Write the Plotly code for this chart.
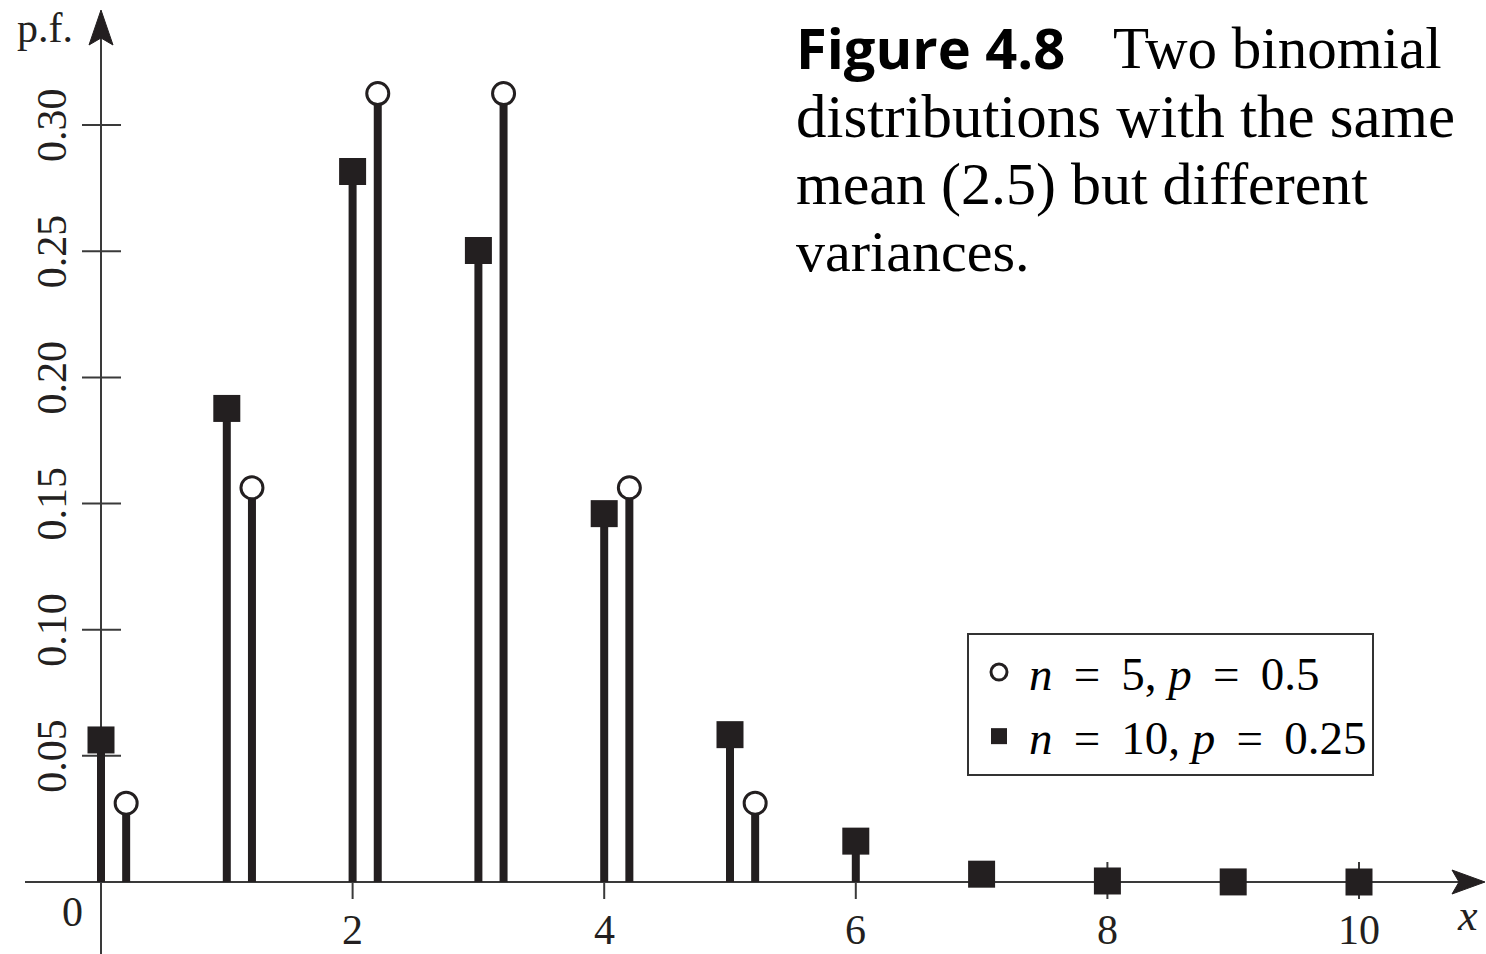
import plotly.graph_objects as go

# ---------------- data ----------------
x_n10 = [0, 1, 2, 3, 4, 5, 6, 7, 8, 9, 10]
pf_n10 = [0.0563, 0.1877, 0.2816, 0.2503, 0.1460, 0.0584, 0.0162, 0.0031, 0.0004, 0.00003, 0.000001]
x_n5 = [0, 1, 2, 3, 4, 5]
pf_n5 = [0.03125, 0.15625, 0.3125, 0.3125, 0.15625, 0.03125]
n5_offset = 0.2

y_tick_values = [0.05, 0.10, 0.15, 0.20, 0.25, 0.30]
y_tick_labels = ["0.05", "0.10", "0.15", "0.20", "0.25", "0.30"]
x_tick_values = [2, 4, 6, 8, 10]
x_tick_labels = ["2", "4", "6", "8", "10"]

SP = " \u2009"
name_n5 = f"<i>n</i>{SP}={SP}5, <i>p</i>{SP}={SP}0.5"
name_n10 = f"<i>n</i>{SP}={SP}10, <i>p</i>{SP}={SP}0.25"

title_bold = "Figure 4.8"
title_lines = ["Two binomial", "distributions with the same", "mean (2.5) but different", "variances."]

# ---------------- styling ----------------
INK = "#231f20"
AXIS = "#3a3a3a"
SERIF = "Liberation Serif"
W, H = 1486, 954
X0_PX, X_UNIT = 101, 125.8
Y0_PX, Y_UNIT = 882, 2523

xr = [-X0_PX / X_UNIT, (W - X0_PX) / X_UNIT]
yr = [-(H - Y0_PX) / Y_UNIT, Y0_PX / Y_UNIT]

x_n5_shift = [x + n5_offset for x in x_n5]


def stems(xs, ys):
    sx, sy = [], []
    for a, b in zip(xs, ys):
        sx += [a, a, None]
        sy += [0, b, None]
    return sx, sy


fig = go.Figure()

sx, sy = stems(x_n10, pf_n10)
fig.add_trace(go.Scatter(x=sx, y=sy, mode="lines", line=dict(color=INK, width=8),
                         showlegend=False, hoverinfo="skip"))
sx, sy = stems(x_n5_shift, pf_n5)
fig.add_trace(go.Scatter(x=sx, y=sy, mode="lines", line=dict(color=INK, width=8),
                         showlegend=False, hoverinfo="skip"))

fig.add_trace(go.Scatter(x=x_n5_shift, y=pf_n5, mode="markers", name=name_n5,
                         marker=dict(symbol="circle", size=22, color="white",
                                     line=dict(color=INK, width=3))))
fig.add_trace(go.Scatter(x=x_n10, y=pf_n10, mode="markers", name=name_n10,
                         marker=dict(symbol="square", size=27, color=INK,
                                     line=dict(color=INK, width=0))))

shapes = []
# axis lines
shapes.append(dict(type="line", xref="x", yref="y", x0=-76 / X_UNIT, x1=10.85, y0=0, y1=0,
                   line=dict(color=AXIS, width=2), layer="below"))
shapes.append(dict(type="line", xref="x", yref="y", x0=0, x1=0, y0=yr[0], y1=0.335,
                   line=dict(color=AXIS, width=2), layer="below"))
# arrowheads
shapes.append(dict(type="path", xref="x", yref="y", xsizemode="pixel", ysizemode="pixel",
                   xanchor=(1485 - X0_PX) / X_UNIT, yanchor=0,
                   path="M0,0 L-33,12 L-26,0 L-33,-12 Z",
                   fillcolor=INK, line=dict(color=INK, width=1)))
shapes.append(dict(type="path", xref="x", yref="y", xsizemode="pixel", ysizemode="pixel",
                   xanchor=0, yanchor=(Y0_PX - 10) / Y_UNIT,
                   path="M0,0 L-12,-35 L0,-28 L12,-35 Z",
                   fillcolor=INK, line=dict(color=INK, width=1)))
# crossing ticks
for v in y_tick_values:
    shapes.append(dict(type="line", xref="x", yref="y", xsizemode="pixel", xanchor=0,
                       x0=-19, x1=20, y0=v, y1=v, line=dict(color=AXIS, width=2), layer="below"))
for v in x_tick_values:
    shapes.append(dict(type="line", xref="x", yref="y", ysizemode="pixel", yanchor=0,
                       y0=-17, y1=20, x0=v, x1=v, line=dict(color=AXIS, width=2), layer="below"))

annotations = []
for v, t in zip(y_tick_values, y_tick_labels):
    annotations.append(dict(x=0, y=v, xref="x", yref="y", text=t, showarrow=False,
                            textangle=-90, xshift=-49, xanchor="center", yanchor="middle",
                            font=dict(family=SERIF, size=42, color=INK)))
for v, t in zip(x_tick_values, x_tick_labels):
    annotations.append(dict(x=v, y=0, xref="x", yref="y", text=t, showarrow=False,
                            yshift=-48, xanchor="center", yanchor="middle",
                            font=dict(family=SERIF, size=42, color=INK)))
annotations.append(dict(x=0, y=0, xref="x", yref="y", text="0", showarrow=False,
                        xshift=-29, yshift=-30, xanchor="center", yanchor="middle",
                        font=dict(family=SERIF, size=42, color=INK)))
annotations.append(dict(x=45 / W, y=1 - 28 / H, xref="paper", yref="paper", text="p.f.",
                        showarrow=False, xanchor="center", yanchor="middle",
                        font=dict(family=SERIF, size=42, color=INK)))
annotations.append(dict(x=1467 / W, y=1 - 915 / H, xref="paper", yref="paper", text="<i>x</i>",
                        showarrow=False, xanchor="center", yanchor="middle",
                        font=dict(family=SERIF, size=44, color=INK)))

# caption
annotations.append(dict(x=794 / W, y=1 - 47 / H, xref="paper", yref="paper", text="<b>" + title_bold + "</b>",
                        showarrow=False, xanchor="left", yanchor="middle",
                        font=dict(family="Open Sans", size=56, color="black")))
line_left = [1111, 794, 794, 794]
line_mid = [48, 116, 184, 252]
line_size = [59, 61, 60, 58]
for t, lx, my, fs in zip(title_lines, line_left, line_mid, line_size):
    annotations.append(dict(x=lx / W, y=1 - my / H, xref="paper", yref="paper", text=t,
                            showarrow=False, xanchor="left", yanchor="middle",
                            font=dict(family=SERIF, size=fs, color="black")))

fig.update_layout(
    width=W, height=H,
    margin=dict(l=0, r=0, t=0, b=0),
    paper_bgcolor="white", plot_bgcolor="white",
    xaxis=dict(range=xr, visible=False, showgrid=False, zeroline=False, fixedrange=True),
    yaxis=dict(range=yr, visible=False, showgrid=False, zeroline=False, fixedrange=True),
    shapes=shapes,
    annotations=annotations,
    showlegend=True,
    legend=dict(x=967 / W, y=1 - 633 / H, xanchor="left", yanchor="top",
                bordercolor="#333333", borderwidth=2, bgcolor="white",
                font=dict(family=SERIF, size=47, color="black"),
                traceorder="normal", itemsizing="trace", itemwidth=50),
)

fig.write_html("out.html", config={"displayModeBar": False},
               post_script="document.body.style.margin='0px';document.body.style.overflow='hidden';")
